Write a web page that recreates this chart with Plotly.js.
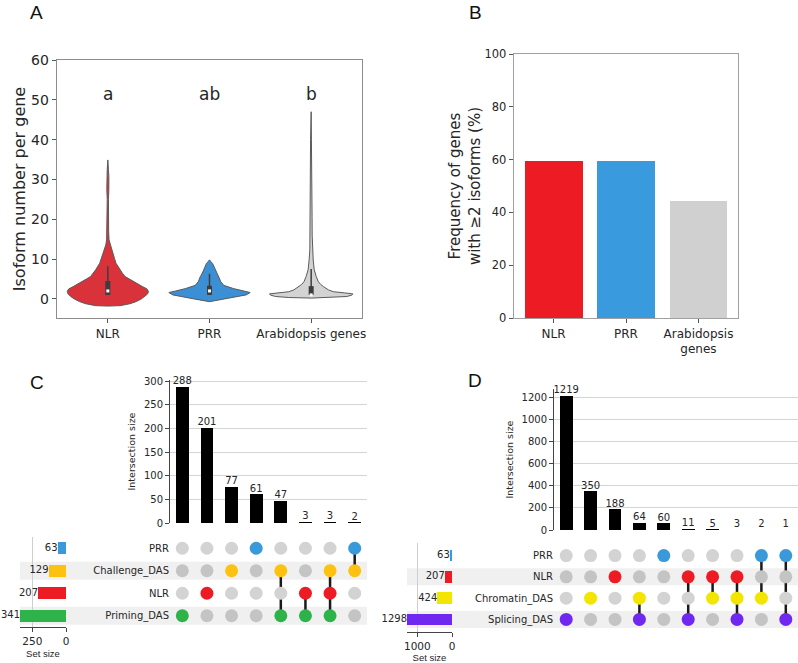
<!DOCTYPE html>
<html><head><meta charset="utf-8">
<script src="https://cdn.plot.ly/plotly-3.0.1.min.js"></script>
<style>html,body{margin:0;padding:0;background:#fff}#chart{width:798px;height:663px}</style>
</head><body><div id="chart"></div>
<script>
// ================= DATA =================
// Panel A: violin outlines (value, half-width in category units)
const violinGroups = ['NLR', 'PRR', 'Arabidopsis genes'];
const sigLetters = ['a', 'ab', 'b'];
const nlrDensY = [-1.8, -1.7, -1.2, -0.67, 0.0, 0.59, 1.2, 1.84, 2.5, 3.1, 3.7, 4.35, 5.0, 5.61, 6.4, 7.29, 8.96, 10.2, 11.47, 12.5, 13.57, 14.82, 17, 20.7, 25, 27.5, 29, 30.7, 32.5, 34.9];
const nlrDensW = [0, 0.12, 0.22, 0.28, 0.33, 0.365, 0.39, 0.40, 0.385, 0.34, 0.30, 0.25, 0.21, 0.17, 0.145, 0.12, 0.08, 0.065, 0.05, 0.035, 0.02, 0.012, 0.008, 0.006, 0.006, 0.01, 0.013, 0.01, 0.006, 0];
const prrDensY = [-0.7, -0.25, 0.17, 0.59, 1.0, 1.59, 2.0, 2.6, 3.4, 4.35, 5.0, 5.61, 6.5, 7.29, 8.0, 8.9, 9.3, 9.8];
const prrDensW = [0, 0.10, 0.19, 0.29, 0.36, 0.40, 0.33, 0.235, 0.14, 0.11, 0.10, 0.09, 0.07, 0.055, 0.045, 0.03, 0.015, 0];
const araDensY = [0.2, 0.35, 0.6, 0.95, 1.26, 1.5, 1.8, 2.26, 2.7, 3.1, 3.6, 4.35, 5.6, 7.3, 9.8, 12.3, 16, 20.7, 30, 40, 47];
const araDensW = [0, 0.22, 0.35, 0.40, 0.41, 0.33, 0.22, 0.17, 0.14, 0.12, 0.095, 0.07, 0.05, 0.03, 0.02, 0.013, 0.01, 0.009, 0.008, 0.006, 0];
const boxQ1 = [1, 1, 1];
const boxQ3 = [4.5, 3.3, 3.2];
const whiskLo = [1, 1, 1];
const whiskHi = [8.2, 6.3, 7.5];
const medians = [2, 2, 1];

// Panel B
const freqGroups = ['NLR', 'PRR', 'Arabidopsis<br>genes'];
const freqValues = [59.4, 59.3, 44.3];

// Panel C (rows listed bottom -> top)
const cSets = ['Priming_DAS', 'NLR', 'Challenge_DAS', 'PRR'];
const cSetSizes = [341, 207, 129, 63];
const cIntersectSizes = [288, 201, 77, 61, 47, 3, 3, 2];
const cMembers = [['Priming_DAS'], ['NLR'], ['Challenge_DAS'], ['PRR'], ['Challenge_DAS', 'Priming_DAS'], ['NLR', 'Priming_DAS'], ['Challenge_DAS', 'NLR', 'Priming_DAS'], ['PRR', 'Challenge_DAS']];

// Panel D (rows listed bottom -> top)
const dSets = ['Splicing_DAS', 'Chromatin_DAS', 'NLR', 'PRR'];
const dSetSizes = [1298, 424, 207, 63];
const dIntersectSizes = [1219, 350, 188, 64, 60, 11, 5, 3, 2, 1];
const dMembers = [['Splicing_DAS'], ['Chromatin_DAS'], ['NLR'], ['Chromatin_DAS', 'Splicing_DAS'], ['PRR'], ['NLR', 'Splicing_DAS'], ['NLR', 'Chromatin_DAS'], ['NLR', 'Chromatin_DAS', 'Splicing_DAS'], ['PRR', 'Chromatin_DAS'], ['PRR', 'Splicing_DAS']];

// ================= STYLE =================
const W = 798, H = 663;
const fx = p => p / W;
const fy = p => 1 - p / H;
const FONT = 'DejaVu Sans';
const TXT = '#262626';
const violinColors = ['#d9323a', '#3b8fd4', '#d3d3d3'];
const freqColors = ['#ed1c24', '#3a9ade', '#d0d0d0'];
const setColors = {
  'PRR': '#3a9ad9', 'NLR': '#ed1c24', 'Challenge_DAS': '#fcc20f', 'Priming_DAS': '#2db34a',
  'Chromatin_DAS': '#f2e600', 'Splicing_DAS': '#7028f0'
};
const grayLight = '#d3d3d3', grayDark = '#c4c4c4';

const traces = [];
const shapes = [];
const annotations = [];

// ---------- Panel A: violins ----------
const dens = [[nlrDensY, nlrDensW], [prrDensY, prrDensW], [araDensY, araDensW]];
dens.forEach(([ys, ws], g) => {
  const xs = ys.map((y, i) => g + ws[i]).concat(ys.slice().reverse().map((y, i) => g - ws[ws.length - 1 - i]));
  const yy = ys.concat(ys.slice().reverse());
  traces.push({type: 'scatter', mode: 'lines', x: xs, y: yy, fill: 'toself', fillcolor: violinColors[g],
    line: {color: '#5a5a5a', width: 1}, xaxis: 'x', yaxis: 'y', hoverinfo: 'skip'});
  traces.push({type: 'scatter', mode: 'lines', x: [g, g], y: [whiskLo[g], whiskHi[g]],
    line: {color: '#3d3d3d', width: 1.5}, xaxis: 'x', yaxis: 'y', hoverinfo: 'skip'});
  traces.push({type: 'scatter', mode: 'lines', x: [g, g], y: [boxQ1[g], boxQ3[g]],
    line: {color: '#3d3d3d', width: 5}, xaxis: 'x', yaxis: 'y', hoverinfo: 'skip'});
  traces.push({type: 'scatter', mode: 'markers', x: [g], y: [medians[g]],
    marker: {symbol: 'square', size: 3, color: 'white'}, xaxis: 'x', yaxis: 'y', hoverinfo: 'skip'});
  annotations.push({xref: 'x', yref: 'y', x: g, y: 51.5, text: sigLetters[g], showarrow: false,
    font: {family: FONT, size: 17, color: TXT}});
});

// ---------- Panel B: bars ----------
traces.push({type: 'bar', x: [0, 1, 2], y: freqValues, width: 0.8, marker: {color: freqColors},
  xaxis: 'x2', yaxis: 'y2', hoverinfo: 'skip'});

// ---------- UpSet helper ----------
function upset(sets, sizes, inter, members, ax) {
  const idx = inter.map((v, i) => i);
  traces.push({type: 'bar', x: idx, y: inter, width: 0.52, marker: {color: '#000'},
    xaxis: ax.bx, yaxis: ax.by, hoverinfo: 'skip'});
  traces.push({type: 'scatter', mode: 'text', x: idx, y: inter, text: inter.map(String),
    textposition: 'top center', textfont: {family: FONT, size: 10, color: TXT},
    cliponaxis: false, xaxis: ax.bx, yaxis: ax.by, hoverinfo: 'skip'});
  // shading
  sets.forEach((s, r) => {
    if (r % 2 === 0) shapes.push({type: 'rect', xref: 'paper', yref: ax.my, x0: fx(ax.shadeX0), x1: fx(ax.shadeX1),
      y0: r - 0.4, y1: r + 0.4, fillcolor: '#f0f0f0', line: {width: 0}, layer: 'below'});
  });
  // connectors
  members.forEach((m, c) => {
    if (m.length > 1) {
      const rows = m.map(s => sets.indexOf(s));
      traces.push({type: 'scatter', mode: 'lines', x: [c, c], y: [Math.min(...rows), Math.max(...rows)],
        line: {color: '#1a1a1a', width: 2.5}, xaxis: ax.bx, yaxis: ax.my, hoverinfo: 'skip'});
    }
  });
  const dx = [], dy = [], dc = [];
  members.forEach((m, c) => {
    sets.forEach((s, r) => {
      dx.push(c); dy.push(r);
      dc.push(m.includes(s) ? setColors[s] : (r % 2 === 0 ? grayDark : grayLight));
    });
  });
  traces.push({type: 'scatter', mode: 'markers', x: dx, y: dy, marker: {size: 13, color: dc, line: {width: 0}},
    xaxis: ax.bx, yaxis: ax.my, cliponaxis: false, hoverinfo: 'skip'});
  // set sizes
  const rows = sets.map((s, r) => r);
  traces.push({type: 'bar', orientation: 'h', x: sizes, y: rows, width: 0.55,
    marker: {color: sets.map(s => setColors[s])}, xaxis: ax.sx, yaxis: ax.sy, hoverinfo: 'skip'});
  traces.push({type: 'scatter', mode: 'text', x: sizes, y: rows, text: sizes.map(String),
    textposition: 'middle left', textfont: {family: FONT, size: 10, color: TXT}, cliponaxis: false,
    xaxis: ax.sx, yaxis: ax.sy, hoverinfo: 'skip'});
}

upset(cSets, cSetSizes, cIntersectSizes, cMembers, {bx: 'x3', by: 'y3', my: 'y4', sx: 'x5', sy: 'y5', shadeX0: 20, shadeX1: 367});
upset(dSets, dSetSizes, dIntersectSizes, dMembers, {bx: 'x6', by: 'y6', my: 'y7', sx: 'x8', sy: 'y8', shadeX0: 407, shadeX1: 798});

// panel letters
[['A', 36, 12], ['B', 475, 12], ['C', 37, 383], ['D', 475, 381]].forEach(([t, x, y]) => {
  annotations.push({xref: 'paper', yref: 'paper', x: fx(x), y: fy(y), text: t, showarrow: false,
    xanchor: 'center', yanchor: 'middle', font: {family: 'Liberation Sans', size: 19, color: '#111'}});
});

// ================= LAYOUT =================
const tf = (s) => ({family: FONT, size: s, color: TXT});
const noAx = {showline: false, showgrid: false, zeroline: false, showticklabels: false, ticks: ''};
const layout = {
  width: W, height: H, margin: {l: 0, r: 0, t: 0, b: 0}, autosize: false,
  paper_bgcolor: '#fff', plot_bgcolor: 'rgba(0,0,0,0)', showlegend: false,
  font: {family: FONT, color: TXT}, bargap: 0,
  // A
  xaxis: {domain: [fx(57), fx(362)], range: [-0.5, 2.5], tickvals: [0, 1, 2], ticktext: violinGroups,
    showline: true, mirror: true, linecolor: '#8c8c8c', linewidth: 1.3, ticks: 'outside', ticklen: 4,
    tickcolor: '#555', tickfont: tf(12), showgrid: false, zeroline: false, anchor: 'y'},
  yaxis: {domain: [fy(318), fy(60)], range: [-4.8, 60], tick0: 0, dtick: 10, showline: true, mirror: true,
    linecolor: '#8c8c8c', linewidth: 1.3, ticks: 'outside', ticklen: 4, tickcolor: '#555', tickfont: tf(14),
    showgrid: false, zeroline: false, anchor: 'x',
    title: {text: 'Isoform number per gene', font: tf(16), standoff: 1}},
  // B
  xaxis2: {domain: [fx(514), fx(738)], range: [-0.545, 2.545], tickvals: [0, 1, 2], ticktext: freqGroups,
    showline: true, mirror: true, linecolor: '#a0a0a0', linewidth: 1.3, ticks: 'outside', ticklen: 4,
    tickcolor: '#555', tickfont: tf(12), showgrid: false, zeroline: false, anchor: 'y2'},
  yaxis2: {domain: [fy(318), fy(54)], range: [0, 100], dtick: 20, showline: true, mirror: true,
    linecolor: '#a0a0a0', linewidth: 1.3, ticks: 'outside', ticklen: 4, tickcolor: '#555', tickfont: tf(11.5),
    showgrid: false, zeroline: false, anchor: 'x2',
    title: {text: 'Frequency of genes<br>with ≥2 isoforms (%)', font: tf(15), standoff: 0}},
  // C bars
  xaxis3: Object.assign({domain: [fx(170), fx(367)], range: [-0.5, 7.5], anchor: 'y3'}, noAx),
  yaxis3: {domain: [fy(523), fy(380)], range: [0, 302.4], tickvals: [0, 50, 100, 150, 200, 250, 300],
    showline: true, linecolor: '#444', linewidth: 1, ticks: 'outside', ticklen: 4, tickcolor: '#444',
    tickfont: tf(10), showgrid: true, gridcolor: '#d4d4d4', gridwidth: 1, zeroline: false, anchor: 'x3',
    title: {text: 'Intersection size', font: tf(9.5), standoff: 6}},
  // C matrix
  yaxis4: {domain: [fy(627), fy(537)], range: [-0.5, 3.5], tickvals: [0, 1, 2, 3], ticktext: cSets,
    showline: false, showgrid: false, zeroline: false, ticks: '', tickfont: tf(10), anchor: 'x3'},
  // C set size
  xaxis5: {domain: [fx(20), fx(66)], range: [341, 0], tickvals: [250, 0], showline: true, linecolor: '#444',
    linewidth: 1, ticks: 'outside', ticklen: 4, tickcolor: '#444', tickfont: tf(10.5), showgrid: true,
    gridcolor: '#cfcfcf', zeroline: false, anchor: 'y5',
    title: {text: 'Set size', font: {family: 'Liberation Sans', size: 9.5, color: TXT}, standoff: 4}},
  yaxis5: Object.assign({domain: [fy(627), fy(537)], range: [-0.5, 3.5], anchor: 'x5'}, noAx),
  // D bars
  xaxis6: Object.assign({domain: [fx(554), fx(798)], range: [-0.5, 9.5], anchor: 'y6'}, noAx),
  yaxis6: {domain: [fy(530), fy(389)], range: [0, 1280], tickvals: [0, 200, 400, 600, 800, 1000, 1200],
    showline: true, linecolor: '#444', linewidth: 1, ticks: 'outside', ticklen: 4, tickcolor: '#444',
    tickfont: tf(10), showgrid: true, gridcolor: '#d4d4d4', gridwidth: 1, zeroline: false, anchor: 'x6',
    title: {text: 'Intersection size', font: tf(9.5), standoff: 6}},
  // D matrix
  yaxis7: {domain: [fy(632), fy(543)], range: [-0.59, 3.59], tickvals: [0, 1, 2, 3], ticktext: dSets,
    showline: false, showgrid: false, zeroline: false, ticks: '', tickfont: tf(10), anchor: 'x6'},
  // D set size
  xaxis8: {domain: [fx(407), fx(452)], range: [1298, 0], tickvals: [1000, 0], showline: true, linecolor: '#444',
    linewidth: 1, ticks: 'outside', ticklen: 4, tickcolor: '#444', tickfont: tf(10.5), showgrid: true,
    gridcolor: '#cfcfcf', zeroline: false, anchor: 'y8',
    title: {text: 'Set size', font: {family: 'Liberation Sans', size: 9.5, color: TXT}, standoff: 4}},
  yaxis8: Object.assign({domain: [fy(632), fy(543)], range: [-0.59, 3.59], anchor: 'x8'}, noAx),
  shapes: shapes,
  annotations: annotations
};

Plotly.newPlot('chart', traces, layout, {staticPlot: true, displayModeBar: false});
</script></body></html>
